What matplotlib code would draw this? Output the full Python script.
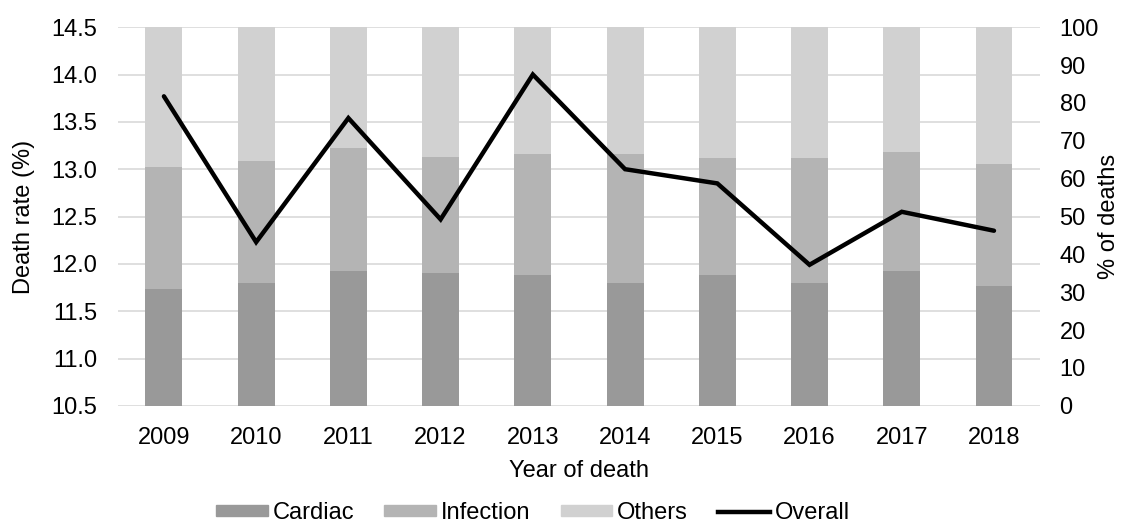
import numpy as np
import matplotlib.pyplot as plt
from matplotlib.patches import Patch
from matplotlib.lines import Line2D

plt.rcParams['font.family'] = ['Liberation Sans', 'DejaVu Sans']

years = ['2009', '2010', '2011', '2012', '2013', '2014', '2015', '2016', '2017', '2018']
overall = [13.77, 12.23, 13.54, 12.47, 14.00, 13.00, 12.85, 11.99, 12.55, 12.35]
cardiac = [30.8, 32.5, 35.7, 35.0, 34.5, 32.5, 34.5, 32.5, 35.7, 31.7]
infection = [32.3, 32.2, 32.5, 30.8, 32.0, 33.9, 31.0, 33.0, 31.4, 32.2]
others = [100 - c - i for c, i in zip(cardiac, infection)]

c_cardiac = '#999999'
c_infection = '#b4b4b4'
c_others = '#d1d1d1'

fig = plt.figure(figsize=(11.22, 5.23), dpi=100)
ax = fig.add_axes([0.105, 0.224, 0.822, 0.724])
ax2 = ax.twinx()

x = np.arange(len(years))
cardiac = np.array(cardiac)
infection = np.array(infection)
others = np.array(others)

# bars on the right axis (% of deaths)
ax2.bar(x, cardiac, width=0.4, color=c_cardiac, zorder=2)
ax2.bar(x, infection, width=0.4, bottom=cardiac, color=c_infection, zorder=2)
ax2.bar(x, others, width=0.4, bottom=cardiac + infection, color=c_others, zorder=2)
ax2.set_ylim(0, 100)
ax2.set_yticks(np.arange(0, 101, 10))

# line on the left axis
ax.plot(x, overall, color='black', lw=3.2, solid_capstyle='round', solid_joinstyle='miter', zorder=5)
ax.set_ylim(10.5, 14.5)
ax.set_yticks(np.arange(10.5, 14.51, 0.5))
ax.set_xlim(-0.5, len(years) - 0.5)
ax.set_xticks(x)
ax.set_xticklabels(years)

# gridlines behind the bars
for v in np.arange(10.5, 14.51, 0.5):
    ax2.axhline((v - 10.5) / 4 * 100, color='#d9d9d9', lw=1.2, zorder=0)

ax.set_zorder(ax2.get_zorder() + 1)
ax.patch.set_visible(False)

fs = 17
for a in (ax, ax2):
    for s in a.spines.values():
        s.set_visible(False)
    a.tick_params(length=0, labelsize=fs, colors='black')
ax.tick_params(axis='x', pad=15)
ax.tick_params(axis='y', pad=15)
ax2.tick_params(axis='y', pad=14)

ax.set_ylabel('Death rate (%)', fontsize=fs)
ax.yaxis.set_label_coords(-0.090, 0.5)
ax2.set_ylabel('% of deaths', fontsize=fs)
ax2.yaxis.set_label_coords(1.063, 0.5)
ax.set_xlabel('Year of death', fontsize=fs, labelpad=8)

handles = [Patch(color=c_cardiac), Patch(color=c_infection), Patch(color=c_others),
           Line2D([0], [0], color='black', lw=3.2)]
labels = ['Cardiac', 'Infection', 'Others', 'Overall']
fig.legend(handles, labels, loc='center', bbox_to_anchor=(0.475, 0.019), ncol=4,
           frameon=False, fontsize=fs, handlelength=2.2, handletextpad=0.2,
           columnspacing=1.27, handleheight=0.3, borderpad=0)

fig.savefig('out.png', dpi=100)
